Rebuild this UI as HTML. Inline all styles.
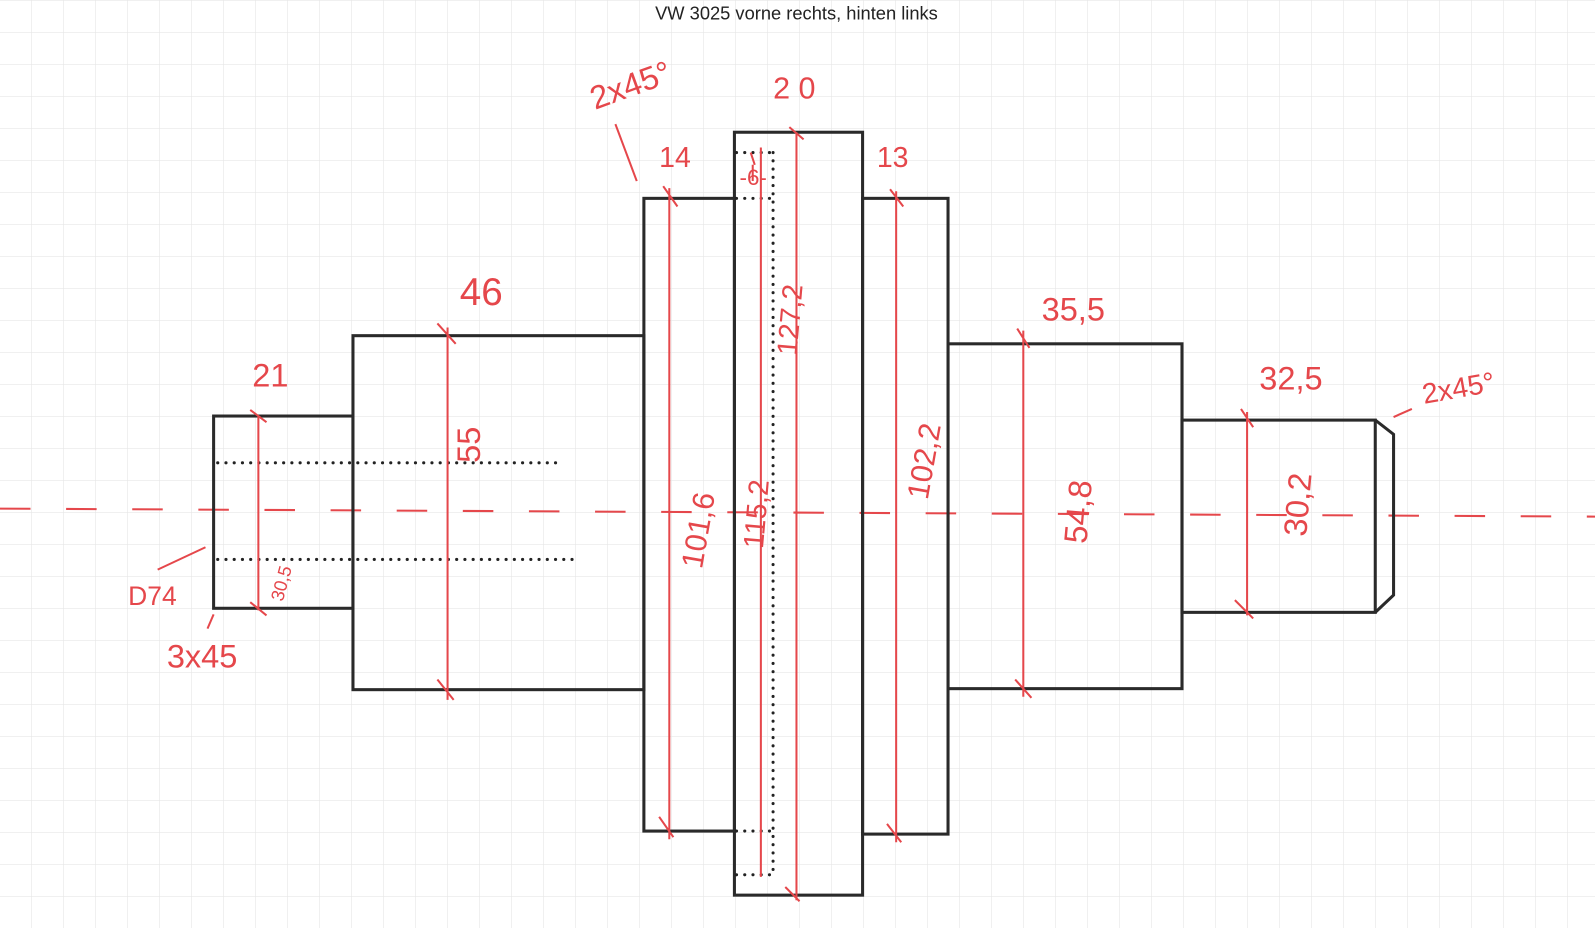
<!DOCTYPE html>
<html><head><meta charset="utf-8"><style>
html,body{margin:0;padding:0;background:#fff;}
svg{display:block;}
text{font-family:"Liberation Sans",sans-serif;}
.r{fill:#e5474b;font-size:32px;}
</style></head><body>
<svg width="1595" height="928" viewBox="0 0 1595 928" xmlns="http://www.w3.org/2000/svg">
<defs>
<pattern id="g" x="0" y="1" width="32" height="32" patternUnits="userSpaceOnUse">
<path d="M32 0V32M0 32H32" stroke="#e6e6e6" stroke-width="1.2" fill="none"/>
</pattern>
</defs>
<rect width="1595" height="928" fill="url(#g)"/>
<g transform="scale(1.0172)">
<text x="783" y="19" font-size="18" text-anchor="middle" fill="#222">VW 3025 vorne rechts, hinten links</text>

<path d="M0 500 L1595 508" stroke="#e5474b" stroke-width="2" stroke-dasharray="30 35" fill="none"/>

<g stroke="#2a2a2a" stroke-width="3" fill="none">
<rect x="210" y="409" width="137" height="189"/>
<rect x="347" y="330" width="286" height="348"/>
<rect x="633" y="195" width="89" height="622"/>
<rect x="722" y="130" width="126" height="750"/>
<rect x="848" y="195" width="84" height="625"/>
<rect x="932" y="338" width="230" height="339"/>
<rect x="1162" y="413" width="190" height="189"/>
<path d="M1352 413 L1370 427 L1370 585 L1352 602"/>
</g>

<g stroke="#222" stroke-width="3" stroke-linecap="round" stroke-dasharray="0.1 8" fill="none">
<path d="M214 455 H550"/>
<path d="M214 550 H566"/>
<path d="M760 150 V862"/>
<path d="M724 150 H760"/>
<path d="M724 195 H760"/>
<path d="M724 817 H760"/>
<path d="M724 860 H760"/>
</g>

<g stroke="#e5474b" stroke-width="2" fill="none">
<path d="M254 409 V600 M246 403 L262 415 M246 592 L262 605"/>
<path d="M440 322 V688 M430 318 L448 338 M430 668 L446 688"/>
<path d="M658 185 V825 M652 183 L666 203 M648 803 L662 823"/>
<path d="M748 145 V862"/>
<path d="M783 130 V885 M776 125 L790 137 M772 872 L786 886"/>
<path d="M881 188 V828 M875 186 L888 203 M872 810 L886 828"/>
<path d="M1006 325 V685 M1000 323 L1012 342 M998 668 L1014 686"/>
<path d="M1226 405 V605 M1220 402 L1232 420 M1214 590 L1232 608"/>
<path d="M605 122 L626 178"/>
<path d="M155 560 L202 538"/>
<path d="M210 604 L204 618"/>
<path d="M1370 410 L1388 402"/>
<path d="M738 150 L742 162 M740 162 V178"/>
</g>

<g class="r">
<text x="585" y="108" transform="rotate(-20 585 108)">2x45°</text>
<text x="760" y="97" font-size="30">2 0</text>
<text x="648" y="164" font-size="28">14</text>
<text x="862" y="164" font-size="28">13</text>
<text x="727" y="182" font-size="22">-6-</text>
<text x="452" y="300" font-size="38">46</text>
<text x="248" y="380">21</text>
<text x="1024" y="315">35,5</text>
<text x="1238" y="383">32,5</text>
<text x="1400" y="397" font-size="28" transform="rotate(-10 1400 397)">2x45°</text>
<text x="126" y="595" font-size="26">D74</text>
<text x="164" y="656">3x45</text>
<text transform="translate(472 455) rotate(-90)">55</text>
<text transform="translate(690 560) rotate(-80)" font-size="30">101,6</text>
<text transform="translate(750 540) rotate(-85)" font-size="28">115,2</text>
<text transform="translate(783 350) rotate(-85)" font-size="28">127,2</text>
<text transform="translate(912 492) rotate(-80)" font-size="30">102,2</text>
<text transform="translate(1068 535) rotate(-85)">54,8</text>
<text transform="translate(1284 528) rotate(-85)">30,2</text>
<text transform="translate(278 592) rotate(-75)" font-size="18">30,5</text>
</g>
</g>
</svg>
</body></html>
